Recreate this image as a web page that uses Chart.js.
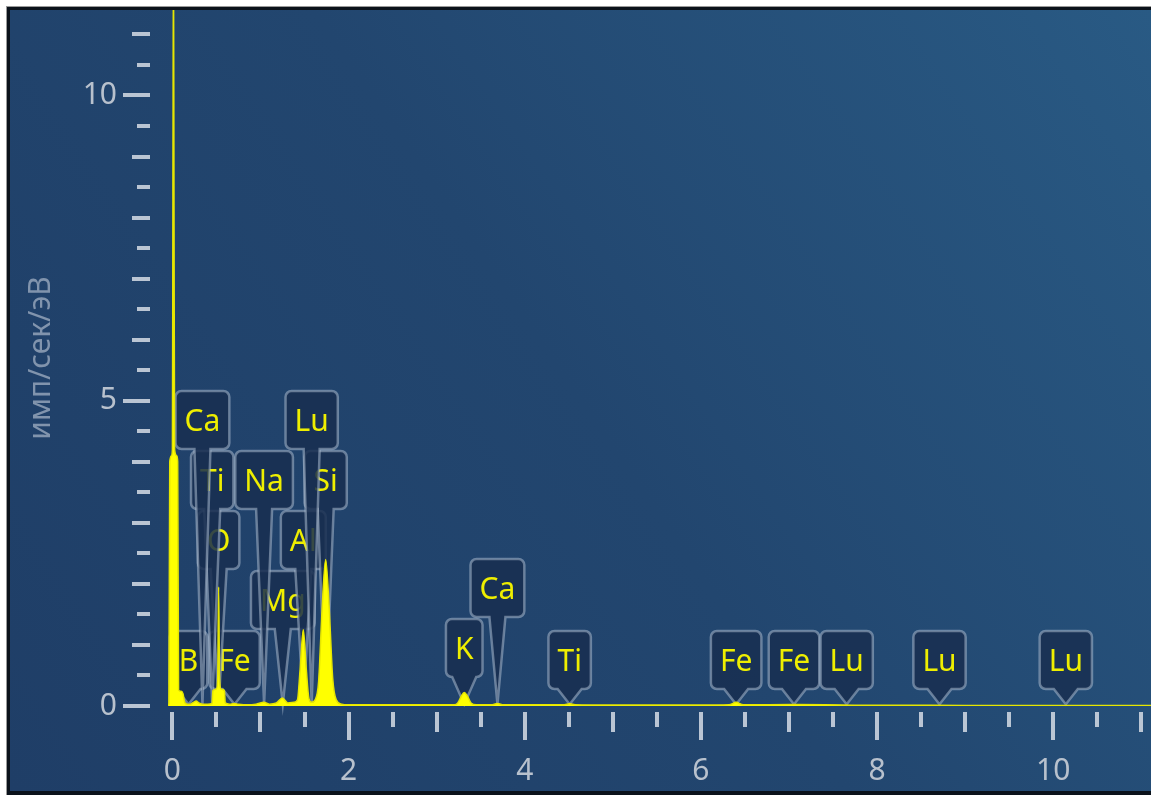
<!DOCTYPE html>
<html><head><meta charset="utf-8">
<script src="https://cdn.jsdelivr.net/npm/chart.js@4.4.1/dist/chart.umd.min.js"></script>
<style>
html,body{margin:0;padding:0;background:#fff;width:1151px;height:795px;overflow:hidden;}
#outer{position:absolute;left:6px;top:6px;width:1150px;height:789px;background:#9a9a9a;}
#frame{position:absolute;left:7px;top:7px;width:1150px;height:788px;background:#0b121b;}
#wrap{position:absolute;left:10px;top:10px;width:1141px;height:781px;}
</style></head><body>
<div id="outer"></div><div id="frame"></div>
<div id="wrap"><canvas id="c" width="1141" height="781"></canvas></div>
<script>
// ---- spectrum (energy keV, counts imp/s/eV) ----
const energy = [-0.05,-0.04,-0.03,-0.01,0.0,0.006,0.012,0.018,0.025,0.05,0.06,0.07,0.1,0.12,0.14,0.17,0.2,0.24,0.27,0.3,0.34,0.4,0.45,0.46,0.5,0.515,0.525,0.535,0.55,0.59,0.6,0.65,0.7,0.75,0.85,0.95,1.04,1.1,1.18,1.25,1.31,1.38,1.42,1.45,1.486,1.52,1.55,1.58,1.62,1.66,1.70,1.74,1.78,1.82,1.86,1.92,2.0,2.5,3.0,3.2,3.24,3.28,3.313,3.35,3.39,3.45,3.62,3.69,3.76,4.0,4.45,4.51,4.57,5.0,6.0,6.32,6.40,6.48,7.06,8.0,9.0,10.0,11.2];
const counts = [0,0.05,4.0,4.1,4.2,8.3,12.5,8.2,4.2,4.1,4.0,0.26,0.24,0.2,0.06,0.03,0.03,0.06,0.08,0.05,0.03,0.03,0.04,0.25,0.28,0.5,1.95,0.5,0.28,0.25,0.05,0.03,0.04,0.03,0.02,0.03,0.06,0.03,0.05,0.13,0.05,0.06,0.1,0.6,1.25,0.6,0.12,0.06,0.1,0.4,1.6,2.4,1.6,0.45,0.1,0.03,0.02,0.02,0.02,0.02,0.05,0.16,0.22,0.16,0.05,0.02,0.02,0.04,0.02,0.02,0.02,0.035,0.02,0.015,0.015,0.02,0.06,0.02,0.025,0.012,0.01,0.008,0.008];

// ---- axis tick labels ----
const xTickLabels = ['0','2','4','6','8','10'];
const yTickLabels = ['0','5','10'];

// ---- element markers ----
const lineNames    = ['B','Fe','Mg','O','Al','Ti','Na','Si','Ca','Lu','K','Ca','Ti','Fe','Fe','Lu','Lu','Lu'];
const lineEnergies = [0.183,0.705,1.253,0.525,1.486,0.452,1.041,1.740,0.341,1.581,3.313,3.690,4.510,6.400,7.057,7.655,8.709,10.143];
// stacking row of each marker box (layout only)
const lineRows     = [0,0,1,2,2,3,3,3,4,4,0.2,1.2,0,0,0,0,0,0];

const points = energy.map((e,i)=>({x:e,y:counts[i]}));

const bgPlugin = {
  id:'bg',
  beforeDraw(chart){
    const {ctx,width,height}=chart;
    const g=ctx.createLinearGradient(0,height,width,0);
    g.addColorStop(0,'#1f3e67');
    g.addColorStop(0.5,'#22466f');
    g.addColorStop(1,'#295a84');
    ctx.save();ctx.fillStyle=g;ctx.fillRect(0,0,width,height);ctx.restore();
  }
};

function callout(ctx,cx,bottom,w,h,tipX,tipY,hb,r){
  const l=cx-w/2, rg=cx+w/2, top=bottom-h;
  ctx.beginPath();
  ctx.moveTo(l+r,top);
  ctx.lineTo(rg-r,top);
  ctx.arcTo(rg,top,rg,top+r,r);
  ctx.lineTo(rg,bottom-r);
  ctx.arcTo(rg,bottom,rg-r,bottom,r);
  ctx.lineTo(cx+hb,bottom);
  ctx.lineTo(tipX,tipY);
  ctx.lineTo(cx-hb,bottom);
  ctx.lineTo(l+r,bottom);
  ctx.arcTo(l,bottom,l,bottom-r,r);
  ctx.lineTo(l,top+r);
  ctx.arcTo(l,top,l+r,top,r);
  ctx.closePath();
}

const markPlugin = {
  id:'marks',
  beforeDatasetsDraw(chart){
    const ctx=chart.ctx, xs=chart.scales.x, ys=chart.scales.y;
    ctx.save();
    const base = ys.getPixelForValue(0);
    const tipY = ys.getPixelForValue(0.03);
    const order = lineNames.map((n,i)=>i).sort((a,b)=>lineRows[a]-lineRows[b]);
    ctx.font='30px "Noto Sans", sans-serif';
    ctx.textAlign='center';ctx.textBaseline='middle';
    order.forEach(i=>{
      const cx = xs.getPixelForValue(lineEnergies[i]);
      const w = ctx.measureText(lineNames[i]).width + 18;
      const h = 58;
      const bottom = base - 17 - lineRows[i]*60;
      const hb = lineRows[i]>0.5 ? 8 : 12;
      callout(ctx,cx,bottom,w,h,cx,tipY,hb,6);
      ctx.fillStyle='rgba(24,47,80,0.86)';
      ctx.fill();
      ctx.lineWidth=2.5;
      ctx.strokeStyle='rgba(170,185,205,0.55)';
      ctx.stroke();
      ctx.fillStyle='#eeee00';
      ctx.fillText(lineNames[i],cx,bottom-h/2+2);
    });
    ctx.restore();
  },
  afterDraw(chart){
    const ctx=chart.ctx, xs=chart.scales.x, ys=chart.scales.y, ca=chart.chartArea;
    ctx.save();
    ctx.fillStyle='rgba(200,208,220,0.92)';
    xs.ticks.forEach(t=>{
      const v=t.value; if(v<0) return;
      const px=Math.round(xs.getPixelForValue(v));
      const len = (Math.abs(v%2)<1e-6)?28:(Math.abs(v%1)<1e-6?20:15);
      ctx.fillRect(px-2,ca.bottom+6,4,len);
    });
    ys.ticks.forEach(t=>{
      const v=t.value; if(v<0) return;
      const py=Math.round(ys.getPixelForValue(v));
      const len = (Math.abs(v%5)<1e-6)?27:(Math.abs(v%1)<1e-6?18:13);
      ctx.fillRect(ca.left-18-len,py-2,len,4);
    });
    ctx.restore();
  }
};

function halfSteps(max){const a=[];for(let v=0;v<=max+1e-9;v+=0.5)a.push({value:v});return a;}
function noPad(s){s.paddingTop=0;s.paddingBottom=0;s.paddingLeft=0;s.paddingRight=0;}

new Chart(document.getElementById('c'),{
  type:'line',
  data:{datasets:[{
    data:points,
    borderColor:'#e6e600',
    borderWidth:1.5,
    backgroundColor:'#ffff00',
    fill:'origin',
    pointRadius:0,
    cubicInterpolationMode:'monotone'
  }]},
  options:{
    responsive:false,
    animation:false,
    devicePixelRatio:1,
    layout:{padding:0},
    plugins:{legend:{display:false},tooltip:{enabled:false}},
    scales:{
      x:{
        type:'linear',min:-0.05,max:11.11,
        grid:{display:false,drawTicks:false},
        border:{display:false},
        afterBuildTicks(s){s.ticks=halfSteps(11);},
        afterFit(s){s.height=85;noPad(s);},
        ticks:{
          autoSkip:false,maxRotation:0,padding:47,
          color:'#b8c1cd',font:{family:'"Noto Sans", sans-serif',size:30},
          callback(v){const l=String(v);return xTickLabels.includes(l)?l:'';}
        }
      },
      y:{
        type:'linear',min:0,max:11.4,
        grid:{display:false,drawTicks:false},
        border:{display:false},
        afterBuildTicks(s){s.ticks=halfSteps(11);},
        afterFit(s){s.width=158;noPad(s);},
        title:{display:true,text:'имп/сек/эВ',color:'#8194ad',
          font:{family:'"Noto Sans", sans-serif',size:30},padding:{top:13,bottom:0}},
        ticks:{
          autoSkip:false,padding:51,
          color:'#b8c1cd',font:{family:'"Noto Sans", sans-serif',size:30},
          callback(v){const l=String(v);return yTickLabels.includes(l)?l:'';}
        }
      }
    }
  },
  plugins:[bgPlugin,markPlugin]
});
</script>
</body></html>
